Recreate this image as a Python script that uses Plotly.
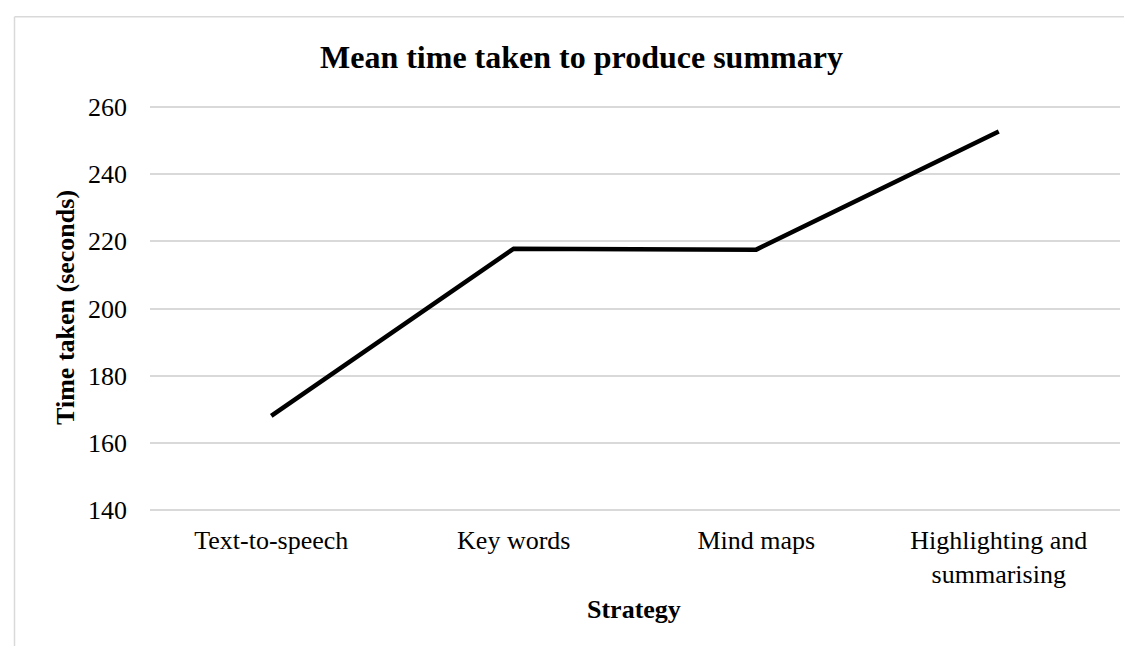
import plotly.graph_objects as go

categories = ["Text-to-speech", "Key words", "Mind maps", "Highlighting and<br>summarising"]
mean_time = [168.1, 217.8, 217.5, 252.6]
y_ticks = [140, 160, 180, 200, 220, 240, 260]

W, H = 1132, 646
L, R, T, B = 142, 20, 96.8, 141.6
pw, ph = W - L - R, H - T - B

def px(x):
    return (x - L) / pw

def py(y):
    return (H - B - y) / ph

FONT = "Liberation Serif, Times New Roman, serif"

fig = go.Figure()
fig.add_trace(go.Scatter(
    x=categories, y=mean_time, mode="lines",
    line=dict(color="#000000", width=4.5),
    showlegend=False, hoverinfo="x+y"
))

fig.update_layout(
    width=W, height=H,
    margin=dict(l=L, r=R, t=T, b=B),
    paper_bgcolor="white", plot_bgcolor="white",
    font=dict(family=FONT, size=26, color="#000000"),
    xaxis=dict(
        type="category", range=[-0.5, 3.5],
        showgrid=False, showline=False, zeroline=False,
        ticks="", ticklabelstandoff=10,
        tickfont=dict(family=FONT, size=26, color="#000000"),
    ),
    yaxis=dict(
        range=[139.5, 260.5], tickvals=y_ticks,
        showgrid=True, gridcolor="#d9d9d9", gridwidth=1.5,
        showline=False, zeroline=False,
        ticks="", ticklabelstandoff=22,
        tickfont=dict(family=FONT, size=26, color="#000000"),
    ),
    annotations=[
        dict(text="<b>Mean time taken to produce summary</b>", xref="paper", yref="paper",
             x=px(573), y=py(49), xanchor="center", yanchor="middle", showarrow=False,
             font=dict(family=FONT, size=32, color="#000000")),
        dict(text="<b>Strategy</b>", xref="paper", yref="paper",
             x=px(626), y=py(602), xanchor="center", yanchor="middle", showarrow=False,
             font=dict(family=FONT, size=26, color="#000000")),
        dict(text="<b>Time taken (seconds)</b>", xref="paper", yref="paper",
             x=px(58), y=py(300), xanchor="center", yanchor="middle", showarrow=False,
             textangle=-90, font=dict(family=FONT, size=26, color="#000000")),
    ],
    shapes=[
        dict(type="line", xref="paper", yref="paper", x0=px(6.5), x1=px(1145), y0=py(8.3), y1=py(8.3),
             line=dict(color="#d9d9d9", width=1.5)),
        dict(type="line", xref="paper", yref="paper", x0=px(6.5), x1=px(6.5), y0=py(8.3), y1=py(660),
             line=dict(color="#d9d9d9", width=1.5)),
    ],
)

fig.write_html("out.html")
